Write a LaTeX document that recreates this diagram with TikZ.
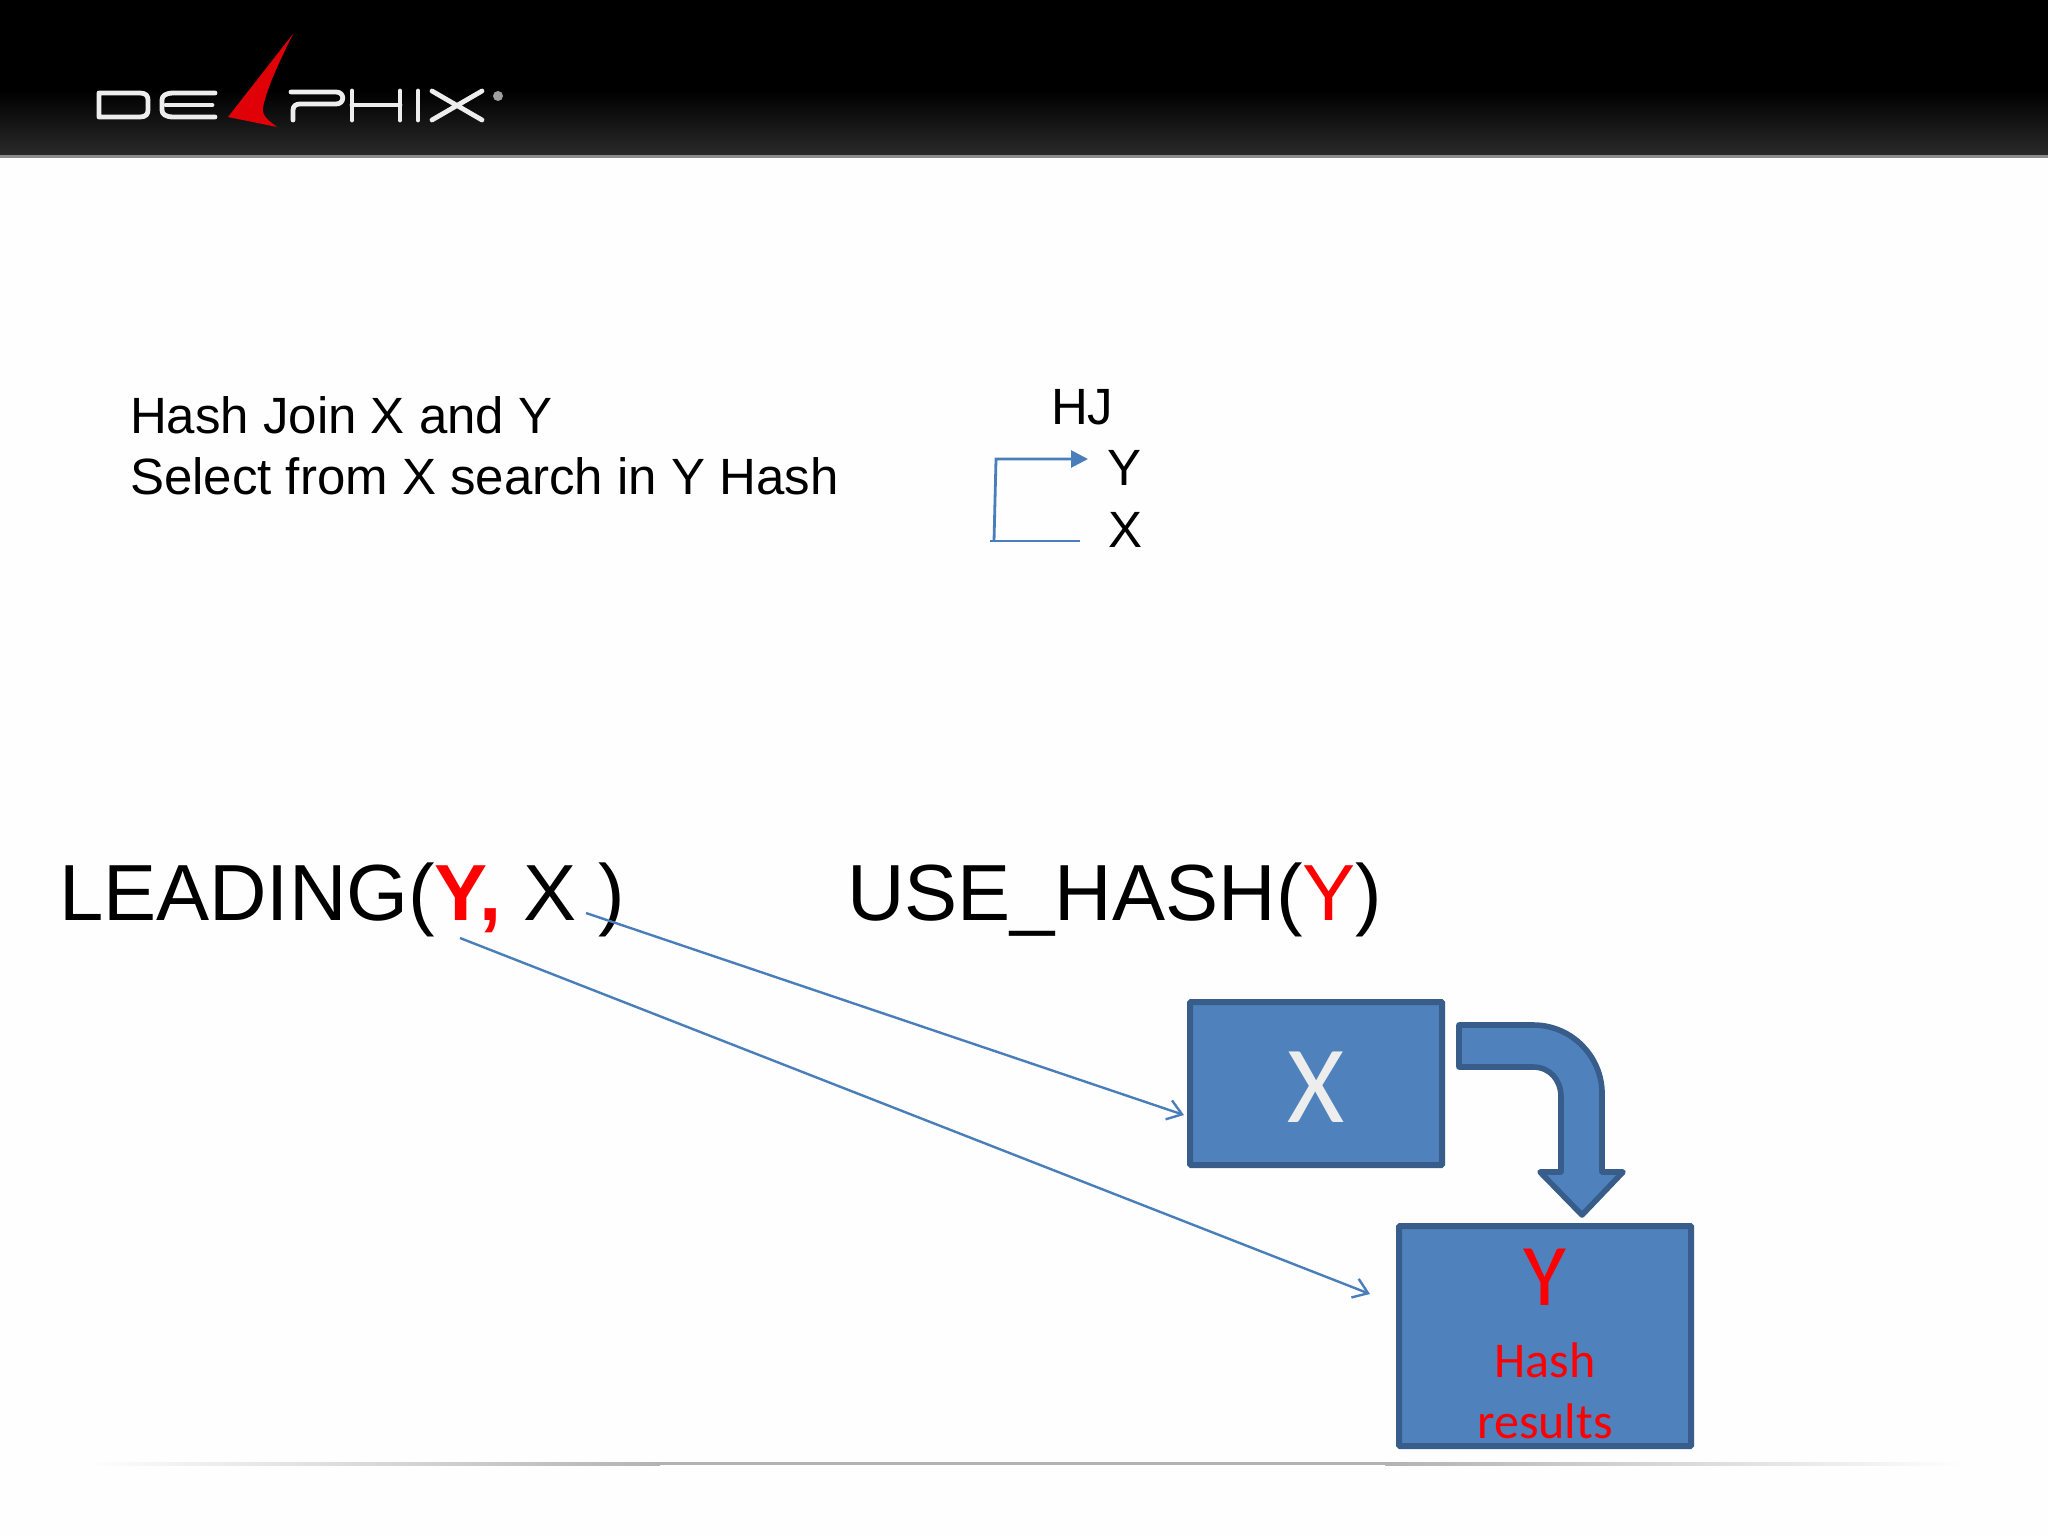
\documentclass[tikz,border=0pt]{standalone}
\usepackage{fontspec}
\setmainfont{Liberation Sans}
\newfontfamily\boxfont{Carlito}
\usetikzlibrary{arrows.meta}
\definecolor{boxfill}{HTML}{4F81BD}
\definecolor{boxline}{HTML}{385D8A}
\definecolor{linkblue}{HTML}{4A7EBB}
\definecolor{hdrgrey}{HTML}{2A2A2A}
\definecolor{logored}{HTML}{E00008}
\tikzset{
  txt/.style={anchor=base west,inner sep=0pt,outer sep=0pt,text=black},
  ctxt/.style={anchor=base,inner sep=0pt,outer sep=0pt},
  bluebox/.style={draw=boxline,line width=3pt,fill=boxfill,rounded corners=0.5pt,inner sep=0pt,anchor=north west},
  thinlink/.style={draw=linkblue,line width=1.4pt},
  openlink/.style={draw=linkblue,line width=1.2pt,-{Straight Barb[length=7pt,width=10pt,line width=1.2pt]}},
  logostroke/.style={draw=white!93!black,line width=2.4pt,line cap=round,line join=round},
}
\begin{document}
\begin{tikzpicture}[x=0.5pt,y=-0.5pt]
\useasboundingbox (0,0) rectangle (2048,1536);
\fill[white!99.5!black] (0,0) rectangle (2048,1536);
% header band
\fill[black] (0,0) rectangle (2048,92);
\fill[top color=black,bottom color=hdrgrey] (0,91) rectangle (2048,155);
\fill[black!45] (0,155) rectangle (2048,157.5);
% logo
\draw[logostroke] (99,93) -- (140,93) .. controls (146,93) and (148,96) .. (148,100) -- (148,110) .. controls (148,114) and (146,117) .. (140,117) -- (99,117) -- cycle;
\draw[logostroke] (215,93) -- (174,93) .. controls (165,93) and (162,96) .. (162,100) -- (162,110) .. controls (162,114) and (165,117) .. (174,117) -- (215,117);
\draw[logostroke] (166,105) -- (212,105);
\fill[logored] (293,34) -- (228,117) -- (277,127) .. controls (268,120) and (262,116) .. (263,108) .. controls (266,90) and (280,60) .. cycle;
\draw[logostroke] (293,120) -- (293,110) .. controls (293,106) and (296,104) .. (300,104) -- (336,104) .. controls (345,104) and (345,92) .. (336,92) -- (291,92);
\draw[logostroke] (352,91) -- (352,120) (400,91) -- (400,120) (352,105) -- (400,105) (418,91) -- (418,120);
\draw[logostroke] (432,91) -- (482,120) (482,91) -- (432,120);
\fill[white!62!black] (498,96) circle (5);
% footer rule
\fill[left color=white,right color=black!30] (80,1462) rectangle (660,1465);
\fill[black!30] (660,1462) rectangle (1385,1465);
\fill[left color=black!30,right color=white] (1385,1462) rectangle (1970,1465);
% upper text
\node[txt,font=\fontsize{25.5}{30}\selectfont] (l1) at (130,433) {Hash Join X and Y};
\node[txt,font=\fontsize{25.5}{30}\selectfont] (l2) at (130,494) {Select from X search in Y Hash};
\node[txt,font=\fontsize{25.5}{30}\selectfont] (hj) at (1051,424) {HJ};
\node[ctxt,font=\fontsize{25.5}{30}\selectfont] (py) at (1124,485) {Y};
\node[ctxt,font=\fontsize{25.5}{30}\selectfont] (px) at (1125,547) {X};
% small plan connector
\coordinate (c1) at (996,459);
\coordinate (c2) at (994,541);
\coordinate (c3) at (1088,459);
\coordinate (c4) at (990,541);
\coordinate (c5) at (1080,541);
\draw[thinlink,-{Triangle[length=8.5pt,width=8.5pt]}] (c2) -- (c1) -- (c3);
\draw[thinlink] (c4) -- (c5);
% hint text
\node[txt,font=\fontsize{39.8}{48}\selectfont] (lead) at (59,920) {LEADING(\textcolor{red}{\textbf{Y,}} X )};
\node[txt,font=\fontsize{39.8}{48}\selectfont] (hash) at (847,920) {USE\_HASH(\textcolor{red}{Y})};
% boxes
\draw[bluebox] (1190,1002) rectangle (1442,1165);
\node[inner sep=0pt,minimum width=126pt,minimum height=81.5pt,bluebox,fill=none,draw=none] (xbox) at (1190,1002) {};
\draw[bluebox] (1399,1226) rectangle (1691,1446);
\node[inner sep=0pt,minimum width=146pt,minimum height=110pt,bluebox,fill=none,draw=none] (ybox) at (1399,1226) {};
\node[ctxt,text=white!93!black,font=\boxfont\fontsize{55}{60}\selectfont] (xt) at (1316,1122) {X};
\node[ctxt,text=red,font=\boxfont\fontsize{44}{50}\selectfont] (yt) at (1545,1305) {Y};
\node[ctxt,text=red,font=\boxfont\fontsize{25}{30}\selectfont] (yh) at (1545,1377) {Hash};
\node[ctxt,text=red,font=\boxfont\fontsize{25}{30}\selectfont] (yr) at (1545,1438) {results};
% bent arrow
\draw[draw=boxline,line width=2.8pt,fill=boxfill,line join=round]
  (1459,1025) -- (1533,1025) .. controls (1573,1025) and (1602,1058) .. (1602,1093)
  -- (1602,1172) -- (1623,1172) -- (1582,1215) -- (1540,1172) -- (1561,1172) -- (1561,1097)
  .. controls (1561,1080) and (1550,1067) .. (1533,1067) -- (1459,1067) -- cycle;
% hint arrows
\coordinate (a1) at (586,913);
\coordinate (a2) at (1184,1115);
\coordinate (b1) at (460,938);
\coordinate (b2) at (1370,1294);
\draw[openlink] (a1) -- (a2);
\draw[openlink] (b1) -- (b2);
\end{tikzpicture}
\end{document}
